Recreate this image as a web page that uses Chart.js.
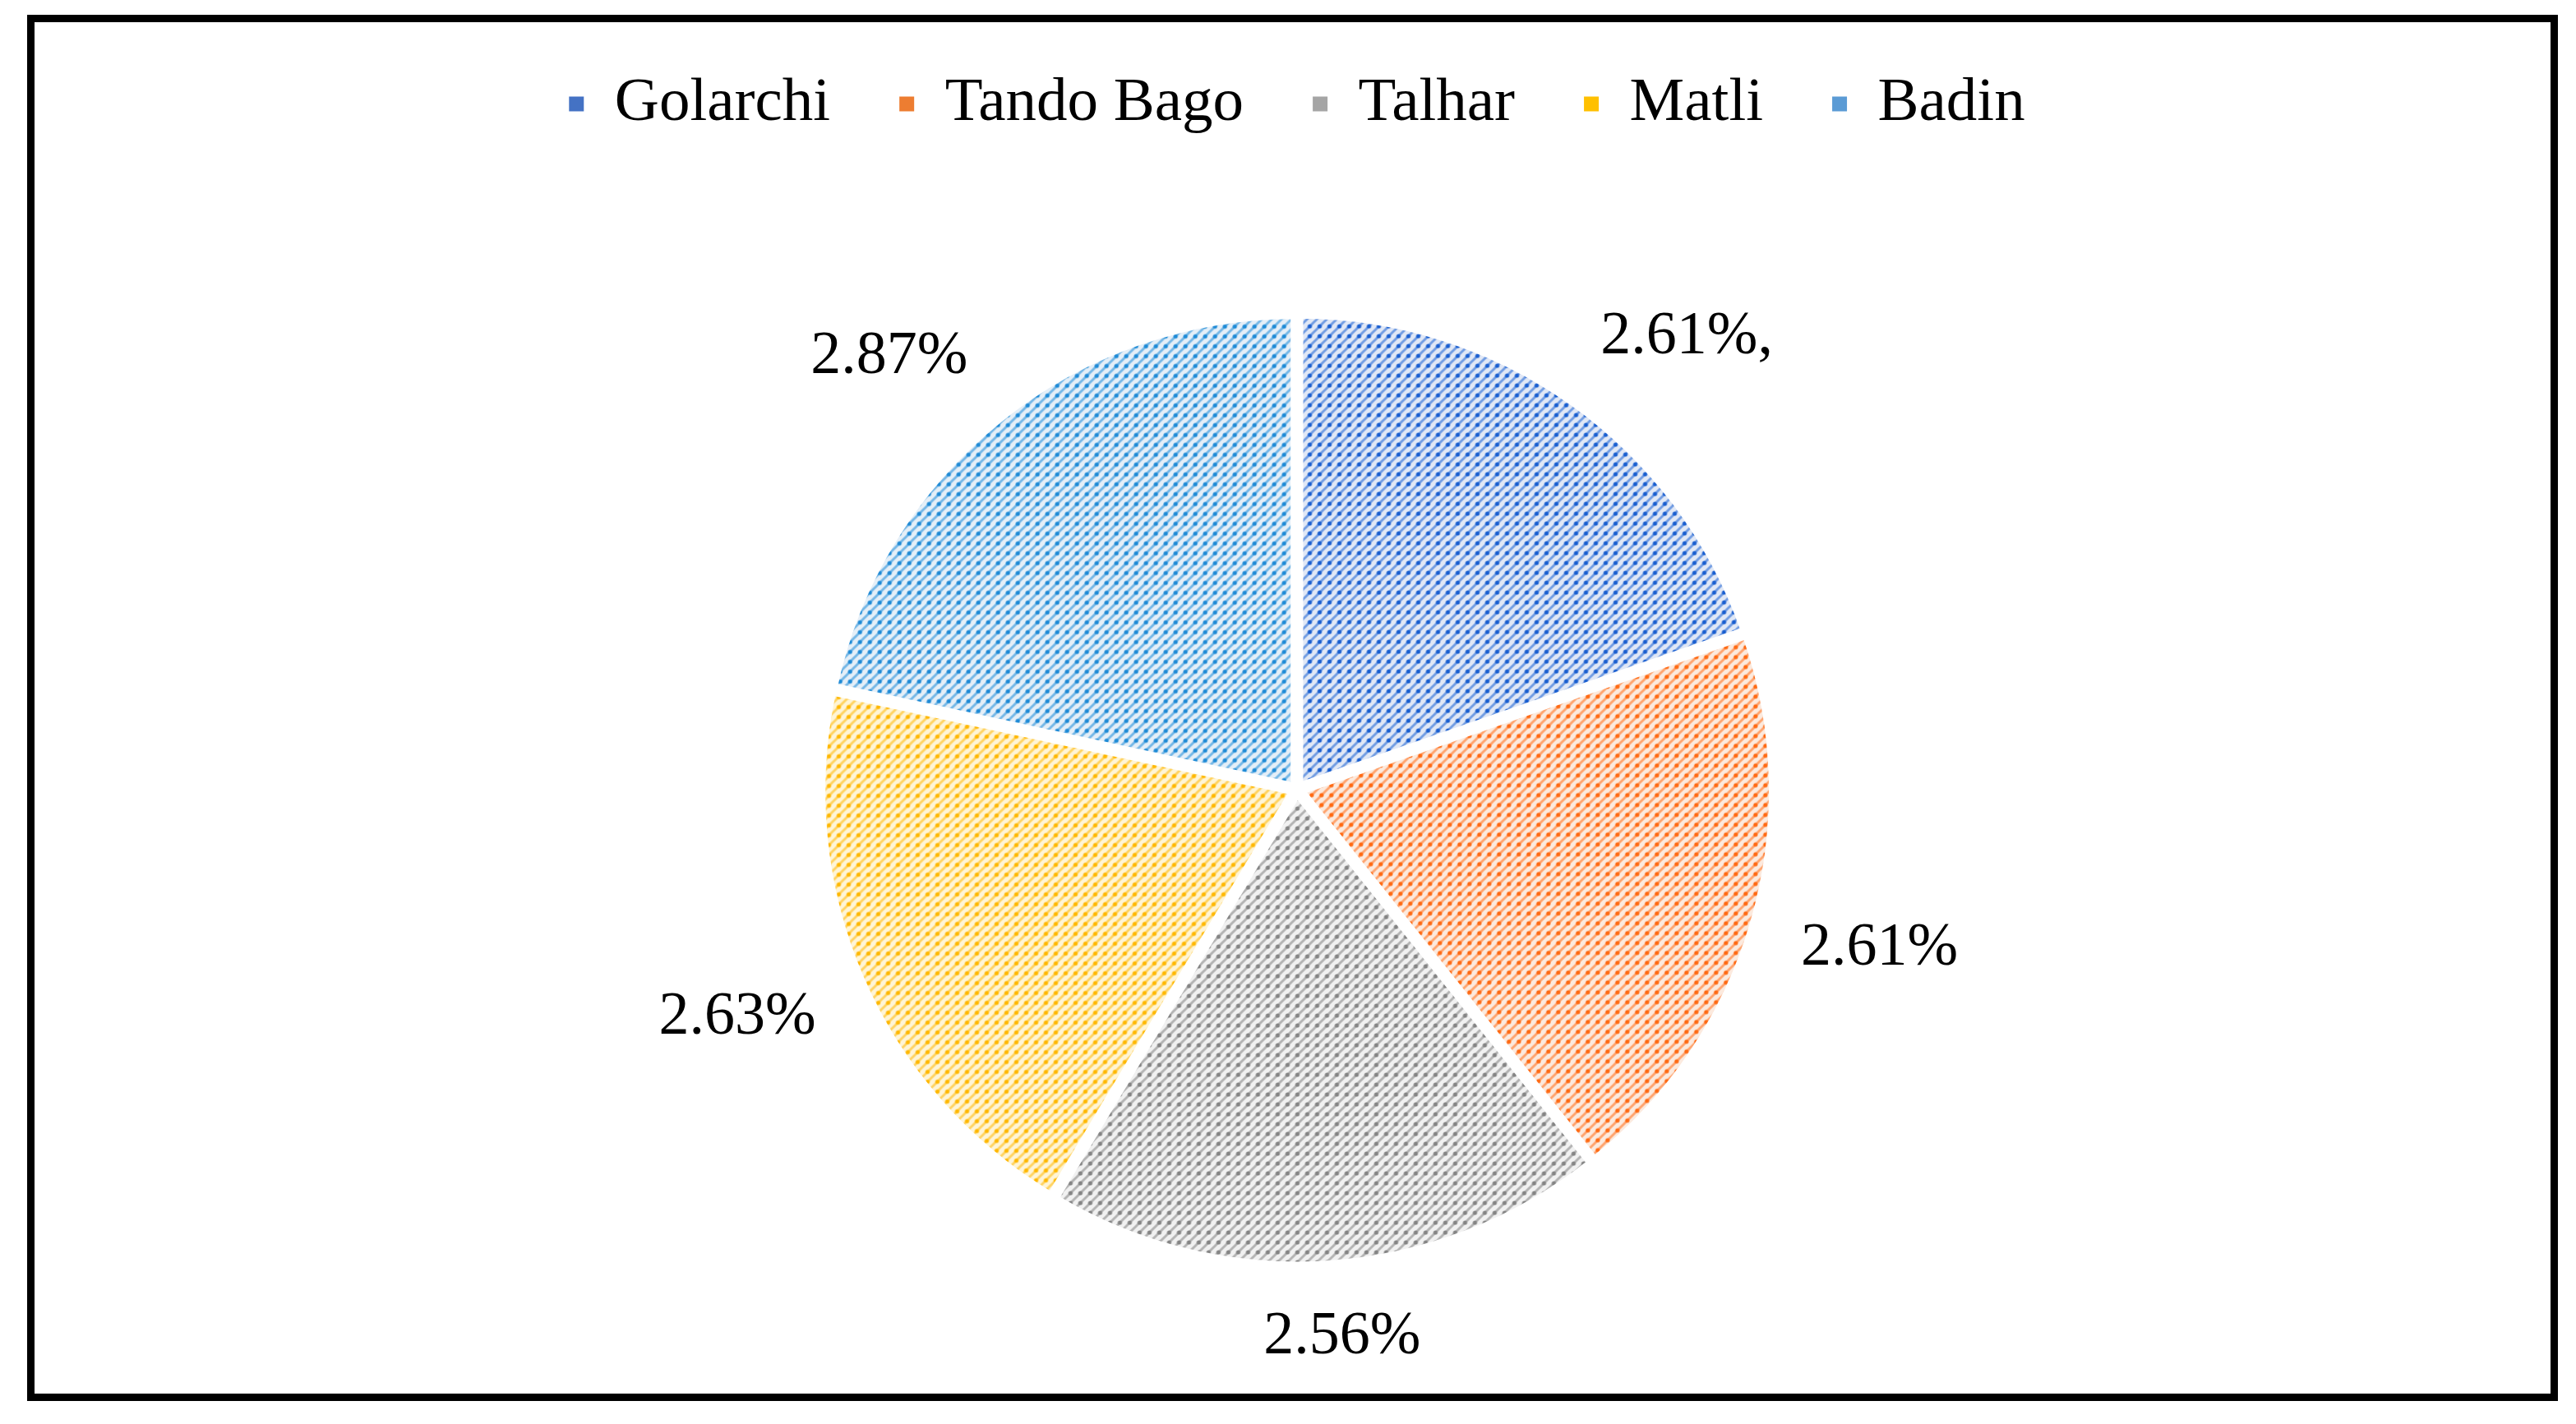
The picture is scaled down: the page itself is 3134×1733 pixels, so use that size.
<!DOCTYPE html>
<html>
<head>
<meta charset="utf-8">
<script src="https://cdn.jsdelivr.net/npm/chart.js@4.4.1/dist/chart.umd.min.js"></script>
<style>
  html, body { margin: 0; padding: 0; background: #fff; overflow: hidden; }
  #wrap { position: relative; width: 3134px; height: 1733px; overflow: hidden; }
  #pie { position: absolute; left: 0; top: 0; }
  #frame {
    position: absolute; left: 33px; top: 18px; width: 3079px; height: 1687px;
    box-sizing: border-box; border: 9px solid #000; pointer-events: none;
  }
</style>
</head>
<body>
<div id="wrap">
  <!-- canvas is a bit taller than the page so the pie sits lower -->
  <canvas id="pie" width="3134" height="1748"></canvas>
  <div id="frame"></div>
</div>
<script>
// data //////////////////////////////////////////////////////////////
const districts = ['Golarchi', 'Tando Bago', 'Talhar', 'Matli', 'Badin'];
const shares = [2.61, 2.61, 2.56, 2.63, 2.87];
const labelSuffix = [',', '', '', '', ''];

// colours (excel office palette + the darker dots of the pattern fill)
const baseColors = ['#4472C4', '#ED7D31', '#A5A5A5', '#FFC000', '#5B9BD5'];
const dotColors = ['#1a5fd0', '#ff6a13', '#858585', '#ffb800', '#1f8bd6'];

// blend a hex colour toward white
function tint(hex, t) {
  const n = parseInt(hex.slice(1), 16);
  const f = (c) => Math.round(c + (255 - c) * t);
  return `rgb(${f((n >> 16) & 255)},${f((n >> 8) & 255)},${f(n & 255)})`;
}

// dotted upward diagonal fill, like excel's pattern fill
function hatch(base, dot) {
  const s = 12;
  const c = document.createElement('canvas');
  c.width = c.height = s;
  const g = c.getContext('2d');
  g.fillStyle = tint(base, 0.84);
  g.fillRect(0, 0, s, s);
  g.strokeStyle = tint(dot, 0.38);
  g.lineWidth = 3;
  g.beginPath();
  g.moveTo(-2, s + 2); g.lineTo(s + 2, -2);
  g.moveTo(-2, 2); g.lineTo(2, -2);
  g.moveTo(s - 2, s + 2); g.lineTo(s + 2, s - 2);
  g.stroke();
  g.fillStyle = dot;
  g.beginPath();
  g.arc(s / 2, s / 2, 2.6, 0, Math.PI * 2);
  g.fill();
  return g.createPattern(c, 'repeat');
}

const patterns = baseColors.map((c, i) => hatch(c, dotColors[i]));

// percentage labels outside the pie (roughly excel "best fit")
const outsideLabels = {
  id: 'outsideLabels',
  afterDatasetsDraw(chart) {
    const { ctx } = chart;
    const meta = chart.getDatasetMeta(0);
    ctx.save();
    ctx.font = '74px "Liberation Serif"';
    ctx.fillStyle = '#000';
    ctx.textAlign = 'center';
    ctx.textBaseline = 'middle';
    meta.data.forEach((arc, i) => {
      const { x, y, startAngle, endAngle, outerRadius } =
        arc.getProps(['x', 'y', 'startAngle', 'endAngle', 'outerRadius'], true);
      const mid = (startAngle + endAngle) / 2;
      const ux = Math.cos(mid);
      const uy = Math.sin(mid);
      const text = shares[i].toFixed(2) + '%' + labelSuffix[i];
      const hw = ctx.measureText(text).width / 2;
      const hh = 30;
      const r = outerRadius + 66;
      // anchor on the ring, then slide the box away from the pie
      const sx = Math.max(-1, Math.min(1, ux * 2));
      const sy = Math.max(-1, Math.min(1, uy * 2));
      ctx.fillText(text, x + ux * r + sx * hw, y + uy * r + sy * hh);
    });
    ctx.restore();
  },
};

new Chart(document.getElementById('pie'), {
  type: 'pie',
  data: {
    labels: districts,
    datasets: [
      {
        data: shares,
        backgroundColor: patterns,
        borderColor: '#ffffff',
        borderWidth: 8,
        offset: 24,
      },
    ],
  },
  options: {
    responsive: false,
    animation: false,
    radius: 572,
    layout: { padding: { left: 22, right: 0, top: 5, bottom: 0 } },
    plugins: {
      tooltip: { enabled: false },
      legend: {
        position: 'top',
        labels: {
          color: '#000',
          font: { family: '"Liberation Serif", "Times New Roman", serif', size: 75 },
          boxWidth: 18,
          boxHeight: 18,
          padding: 84,
          generateLabels: () =>
            districts.map((name, i) => ({
              text: name,
              fillStyle: baseColors[i],
              strokeStyle: baseColors[i],
              lineWidth: 0,
              hidden: false,
              index: i,
            })),
        },
      },
    },
  },
  plugins: [outsideLabels],
});
</script>
</body>
</html>
